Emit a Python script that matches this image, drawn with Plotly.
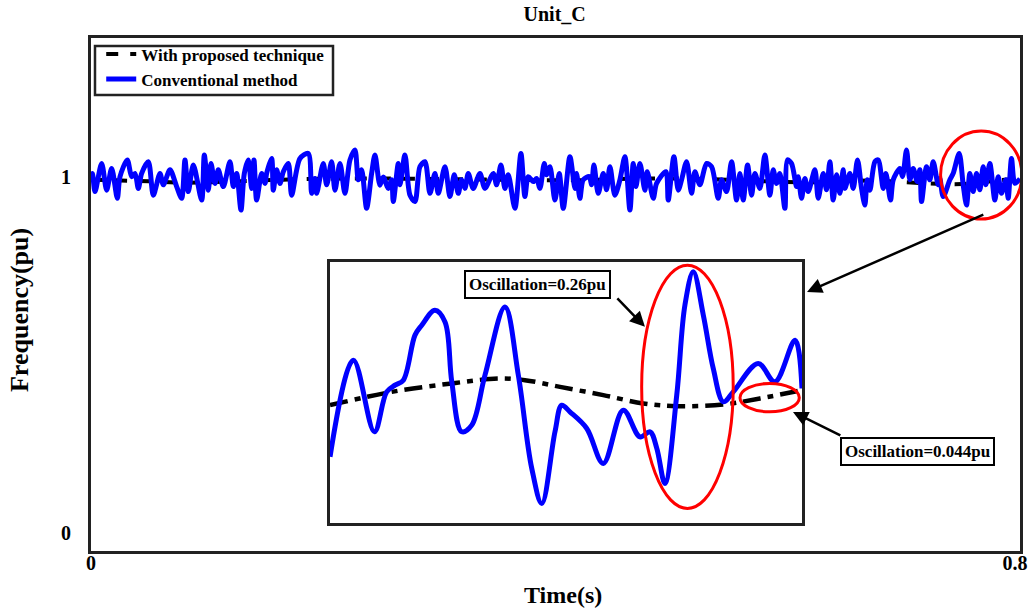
import plotly.graph_objects as go

# ---------------- main plot data ----------------
time_conv = [0.000, 0.00115, 0.00344, 0.00918, 0.01349, 0.01779, 0.02267, 0.02497, 0.03128, 0.03501,
             0.03788, 0.04075, 0.04362, 0.04936, 0.05367, 0.05941, 0.06228, 0.06802, 0.07376, 0.07807,
             0.08093, 0.08380, 0.08811, 0.09529, 0.09758, 0.10102, 0.10332, 0.10676, 0.10963, 0.11394,
             0.11968, 0.12255, 0.12542, 0.12915, 0.13202,
             0.13546, 0.13833, 0.14034, 0.14264, 0.14695, 0.14981, 0.15125, 0.15556, 0.15699, 0.15986,
             0.16273, 0.16560, 0.16990, 0.17278, 0.17995, 0.18712, 0.19000, 0.19286, 0.19430, 0.20004,
             0.20291, 0.20722, 0.21008, 0.21439, 0.21869, 0.22300, 0.22730, 0.23017, 0.23305, 0.23735,
             0.24166, 0.24452, 0.24883, 0.25170, 0.25601, 0.25888, 0.26031, 0.26461,
             0.26605, 0.27035, 0.27466, 0.27896, 0.28327, 0.28757, 0.29188, 0.29618, 0.29905, 0.30479,
             0.30910, 0.31283, 0.31627, 0.31915, 0.32201, 0.32488, 0.32919, 0.33493, 0.33923, 0.34641,
             0.34928, 0.35301, 0.35645, 0.35932, 0.36506, 0.37023, 0.37367, 0.37654, 0.38085, 0.38372,
             0.38659, 0.39032, 0.39233, 0.39520, 0.39950,
             0.40323, 0.40668, 0.41242, 0.41672, 0.41816, 0.42103, 0.42390, 0.42907, 0.43108, 0.43308,
             0.43681, 0.44112, 0.44399, 0.44686, 0.45116, 0.45547, 0.45977, 0.46408, 0.46695, 0.46925,
             0.47269, 0.47699, 0.47900, 0.48417, 0.48704, 0.49508, 0.49708, 0.50196, 0.50569, 0.50857,
             0.51287, 0.51718, 0.52004, 0.52435, 0.53009,
             0.53440, 0.54013, 0.54301, 0.54731, 0.55162, 0.55592, 0.55879, 0.56166, 0.56539, 0.56884,
             0.57170, 0.57601, 0.58031, 0.58462, 0.58749, 0.59036, 0.59323, 0.59753, 0.59983, 0.60328,
             0.60758, 0.60901, 0.61189, 0.61475, 0.61762, 0.62336, 0.62623, 0.63054, 0.63341, 0.63628,
             0.63915, 0.64202, 0.64489, 0.64776, 0.64919, 0.65350, 0.65637, 0.66010, 0.66355, 0.66641,
             0.66842, 0.67072, 0.67502, 0.67789, 0.68220, 0.68450, 0.68852, 0.69081, 0.69655, 0.69885,
             0.70229, 0.70516, 0.70803, 0.71147, 0.71377, 0.71521, 0.71951, 0.72238, 0.72525, 0.72955,
             0.73099, 0.73386, 0.73960, 0.74247, 0.74763, 0.75108, 0.75395, 0.75682, 0.75969, 0.76256,
             0.76543, 0.76830, 0.77060, 0.77404, 0.77834, 0.78121, 0.78409, 0.78782, 0.78983, 0.79270,
             0.79557, 0.80000]
freq_conv = [1.001, 1.010, 0.959, 1.038, 0.963, 1.024, 0.940, 1.001, 1.048, 1.001,
             1.010, 0.968, 1.010, 1.043, 0.949, 1.010, 0.978, 1.020, 0.973, 0.940,
             1.048, 0.959, 1.034, 0.935, 1.062, 0.963, 1.038, 0.982, 1.020, 0.973,
             1.043, 0.973, 1.010, 0.907, 1.010,
             1.048, 0.968, 1.048, 0.935, 1.010, 0.982, 1.010, 1.052, 0.963, 1.020,
             0.982, 1.015, 1.038, 0.949, 1.052, 1.066, 0.954, 0.996, 0.954, 1.038,
             0.978, 1.043, 0.963, 1.038, 0.954, 1.048, 1.076, 0.992, 1.020, 0.912,
             1.010, 1.062, 0.977, 1.000, 0.968, 0.992, 0.931, 1.038,
             0.978, 1.062, 0.949, 0.931, 1.029, 1.043, 0.954, 1.010, 0.954, 1.029,
             0.945, 1.006, 0.954, 0.992, 0.968, 1.010, 0.968, 1.010, 0.968, 1.010,
             0.978, 1.034, 0.968, 1.006, 0.912, 1.066, 0.945, 1.001, 0.987, 0.996,
             0.968, 1.038, 1.006, 1.029, 0.935,
             1.010, 0.912, 1.057, 0.968, 1.010, 0.940, 0.992, 1.001, 0.978, 1.034,
             0.954, 1.010, 0.964, 1.029, 0.949, 0.992, 1.057, 0.907, 1.038, 0.973,
             1.038, 0.963, 1.015, 0.940, 0.982, 1.015, 0.935, 1.057, 0.963, 0.992,
             1.043, 0.954, 1.015, 0.978, 1.038,
             1.029, 0.940, 0.992, 0.959, 1.043, 0.935, 1.010, 0.935, 1.034, 0.949,
             1.010, 0.968, 1.062, 0.949, 1.020, 0.982, 1.010, 0.912, 1.048, 1.038,
             0.973, 1.001, 0.940, 0.996, 0.959, 1.020, 0.940, 1.010, 0.964, 1.043,
             0.935, 1.006, 0.954, 1.020, 0.968, 1.010, 0.968, 1.048, 0.968, 0.921,
             0.992, 0.963, 1.043, 1.048, 0.968, 1.010, 0.935, 0.992, 1.024, 1.001,
             1.076, 0.992, 1.024, 0.987, 1.020, 0.931, 1.029, 0.992, 1.043, 0.978,
             0.996, 0.945, 0.992, 1.010, 1.066, 0.978, 0.921, 1.010, 0.959, 1.010,
             0.964, 1.029, 0.978, 1.038, 0.935, 1.001, 0.954, 0.992, 0.940, 1.052,
             0.982, 0.995]

time_prop = [0.00, 0.05, 0.08, 0.12, 0.17, 0.23, 0.30, 0.36, 0.42, 0.48,
             0.53, 0.58, 0.63, 0.67, 0.72, 0.75, 0.78, 0.80]
freq_prop = [0.992, 0.988, 0.984, 0.987, 0.993, 0.996, 0.994, 0.992, 0.991, 0.996,
             0.994, 0.988, 0.985, 0.990, 0.982, 0.980, 0.990, 0.996]

# ---------------- inset (zoomed) data ----------------
zoom_time_conv = [0.77000, 0.77148, 0.77282, 0.77360, 0.77413, 0.77466, 0.77540, 0.77583, 0.77667, 0.77731,
                  0.77774, 0.77837, 0.77901, 0.77985, 0.78112, 0.78197, 0.78282, 0.78346, 0.78430, 0.78473,
                  0.78525, 0.78632, 0.78737, 0.78864, 0.78970, 0.79034, 0.79077, 0.79129, 0.79204, 0.79256,
                  0.79309, 0.79373, 0.79436, 0.79500, 0.79563, 0.79722, 0.79828, 0.79956, 0.80000]
zoom_freq_conv = [0.9305, 1.0394, 0.9587, 1.0037, 1.0113, 1.0169, 1.0676, 1.0788, 1.0957, 1.0825,
                  1.0150, 0.9587, 0.9662, 1.0225, 1.0994, 1.0225, 0.9178, 0.8780, 0.9587, 0.9887,
                  0.9812, 0.9625, 0.9231, 0.9831, 0.9530, 0.9587, 0.9403, 0.9006, 1.0000, 1.1014,
                  1.1389, 1.0901, 1.0301, 0.9925, 1.0037, 1.0357, 1.0150, 1.0619, 1.0075]
zoom_time_prop = [0.77000, 0.77392, 0.77774, 0.78070, 0.78239, 0.78462, 0.78737, 0.78991, 0.79204, 0.79500,
                  0.79733, 0.80000]
zoom_freq_prop = [0.9887, 1.0037, 1.0132, 1.0188, 1.0169, 1.0093, 1.0000, 0.9907, 0.9876, 0.9895,
                  0.9963, 1.0056]

x_ticks = [0, 0.8]
x_ticktext = ["0", "0.8"]
y_ticks = [0, 1]
y_ticktext = ["0", "1"]

FONT = "Liberation Serif"
BLUE = "#0000FF"
FRAME = "#222222"

fig = go.Figure()

fig.add_trace(go.Scatter(x=time_prop, y=freq_prop, mode="lines", name="<b>With proposed technique</b>",
                         line=dict(color="black", width=4, dash="dash", shape="spline")))
fig.add_trace(go.Scatter(x=time_conv, y=freq_conv, mode="lines", name="<b>Conventional method</b>",
                         line=dict(color=BLUE, width=5, shape="spline", smoothing=0.8)))

fig.add_trace(go.Scatter(x=zoom_time_prop, y=zoom_freq_prop, mode="lines", showlegend=False,
                         xaxis="x2", yaxis="y2",
                         line=dict(color="black", width=4.5, dash="18px,7px,6px,7px", shape="spline")))
fig.add_trace(go.Scatter(x=zoom_time_conv, y=zoom_freq_conv, mode="lines", showlegend=False,
                         xaxis="x2", yaxis="y2",
                         line=dict(color=BLUE, width=5, shape="spline", smoothing=1.0)))

axis_common = dict(showline=True, mirror=True, linecolor=FRAME, linewidth=3,
                   showgrid=False, zeroline=False, automargin=False, ticklabeloverflow="allow")
inset_axis = dict(showticklabels=False, ticks="", showline=True, mirror=True, linecolor=FRAME,
                  linewidth=2.5, showgrid=False, zeroline=False, automargin=False)

# last x tick label is padded so it stays inside the page (as in the reference)
x_labels = ["<b>%s</b>" % t for t in x_ticktext]
x_labels[-1] = x_labels[-1] + "&nbsp;&nbsp;"

fig.update_layout(
    width=1031, height=609,
    margin=dict(l=91, r=11, t=38, b=58, autoexpand=False),
    paper_bgcolor="white", plot_bgcolor="white",
    font=dict(family=FONT, color="black"),
    title=dict(text="<b>Unit_C</b>", x=0.538, xanchor="center", y=0.977, yanchor="middle",
               font=dict(size=20, family=FONT, color="black")),
    xaxis=dict(range=[0, 0.8], tickvals=x_ticks, ticktext=x_labels,
               ticks="", ticklabelstandoff=-8, tickfont=dict(size=20, family=FONT), **axis_common),
    yaxis=dict(range=[-0.0506, 1.3904], tickvals=y_ticks, ticktext=["<b>%s</b>" % t for t in y_ticktext],
               ticks="outside", ticklen=13, tickcolor="rgba(0,0,0,0)", tickfont=dict(size=20, family=FONT),
               **axis_common),
    xaxis2=dict(domain=[0.2573, 0.7653], anchor="y2", range=[0.77, 0.80], **inset_axis),
    yaxis2=dict(domain=[0.0546, 0.5634], anchor="x2", range=[0.856, 1.150], **inset_axis),
    legend=dict(x=0.011, y=1.003, xanchor="left", yanchor="top", bgcolor="rgba(0,0,0,0)",
                borderwidth=0, tracegroupgap=0,
                font=dict(size=17, family=FONT, color="black")),
    showlegend=True,
)

# axis titles
fig.add_annotation(x=0.508, y=-0.0858, xref="paper", yref="paper", text="<b>Time(s)</b>",
                   showarrow=False, xanchor="center", yanchor="middle",
                   font=dict(size=24, family=FONT, color="black"))
fig.add_annotation(x=-0.0764, y=0.4698, xref="paper", yref="paper", text="<b>Frequency(pu)</b>",
                   showarrow=False, textangle=-90, xanchor="center", yanchor="middle",
                   font=dict(size=26, family=FONT, color="black"))

# legend frame
fig.add_shape(type="rect", xref="paper", yref="paper", x0=0.0043, x1=0.2605, y0=0.8889, y1=0.9844,
              line=dict(color=FRAME, width=2.5), layer="above")

# red ellipses
fig.add_shape(type="circle", xref="x", yref="y", x0=0.7316, x1=0.8016, y0=0.882, y1=1.129,
              line=dict(color="red", width=3))
fig.add_shape(type="circle", xref="x2", yref="y2", x0=0.78981, x1=0.79563, y0=0.8724, y1=1.1464,
              line=dict(color="red", width=3))
fig.add_shape(type="circle", xref="x2", yref="y2", x0=0.79606, x1=0.79983, y0=0.9812, y1=1.0132,
              line=dict(color="red", width=3))

# arrows (head_x, head_y, tail_x, tail_y)
arrows = [
    (0.6166, 0.677, 0.7697, 0.896),
    (0.4770, 0.579, 0.4520, 0.663),
    (0.6045, 0.340, 0.6466, 0.272),
]
for hx, hy, tx, ty in arrows:
    fig.add_annotation(x=hx, y=hy, ax=tx, ay=ty, xref="x", yref="y", axref="x", ayref="y",
                       text="", showarrow=True, arrowhead=2, arrowsize=1.2, arrowwidth=2.5,
                       arrowcolor="black")

# text boxes
fig.add_annotation(x=0.3849, y=0.6994, xref="x", yref="y", text="<b>Oscillation=0.26pu</b>",
                   showarrow=False, font=dict(size=17, family=FONT, color="black"),
                   bgcolor="white", bordercolor="black", borderwidth=2, borderpad=3)
fig.add_annotation(x=0.7121, y=0.2303, xref="x", yref="y", text="<b>Oscillation=0.044pu</b>",
                   showarrow=False, font=dict(size=17, family=FONT, color="black"),
                   bgcolor="white", bordercolor="black", borderwidth=2, borderpad=3)

fig.write_html("out.html")
